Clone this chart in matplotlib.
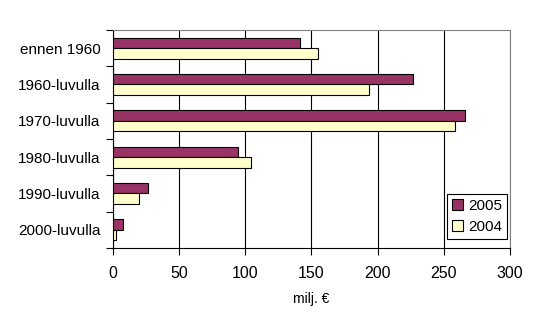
import numpy as np
import matplotlib
matplotlib.use("Agg")
import matplotlib.pyplot as plt

plt.rcParams['font.family'] = ['Liberation Sans', 'DejaVu Sans']

categories = ["ennen 1960", "1960-luvulla", "1970-luvulla", "1980-luvulla", "1990-luvulla", "2000-luvulla"]
v2005 = [141.7, 226.5, 265.9, 94.7, 26.5, 7.6]
v2004 = [155.3, 193.9, 258.3, 104.5, 19.7, 2.3]

fig = plt.figure(figsize=(5.43, 3.25), dpi=100)
ax = fig.add_axes([0.208, 0.237, 0.731, 0.671])

y = np.arange(len(categories))
h = 0.29
ax.barh(y - h / 2, v2005, height=h, color="#993366", edgecolor="black", linewidth=0.8, label="2005", zorder=3)
ax.barh(y + h / 2, v2004, height=h, color="#FFFFCC", edgecolor="black", linewidth=0.8, label="2004", zorder=3)

ax.set_xlim(0, 300)
ax.set_ylim(len(categories) - 0.5, -0.5)
ax.set_xticks(range(0, 301, 50))
ax.xaxis.grid(True, color="black", linewidth=0.8, zorder=0)

# labels sit between the tick marks, ticks mark the category boundaries
ax.set_yticks(np.arange(-0.5, len(categories), 1.0))
ax.set_yticklabels([])
ax.set_yticks(y, minor=True)
ax.set_yticklabels(categories, minor=True, fontsize=11)
ax.tick_params(axis="y", which="minor", length=0, pad=9)
ax.tick_params(axis="y", which="major", length=5, direction="out", width=0.8)
ax.tick_params(axis="x", length=5, direction="out", width=0.8, labelsize=11.5, pad=8)

for s in ["top", "right"]:
    ax.spines[s].set_color("#808080")
for s in ["left", "bottom"]:
    ax.spines[s].set_color("black")

ax.set_xlabel("milj. €", fontsize=10, labelpad=8)

leg = ax.legend(loc="lower right", bbox_to_anchor=(0.993, 0.04), fontsize=11, frameon=True,
                fancybox=False, edgecolor="black", framealpha=1, handlelength=0.7, handleheight=0.7,
                handletextpad=0.3, borderpad=0.35, labelspacing=0.45, borderaxespad=0)
leg.get_frame().set_linewidth(0.8)
leg.set_zorder(5)

fig.savefig("out.png", dpi=100)
